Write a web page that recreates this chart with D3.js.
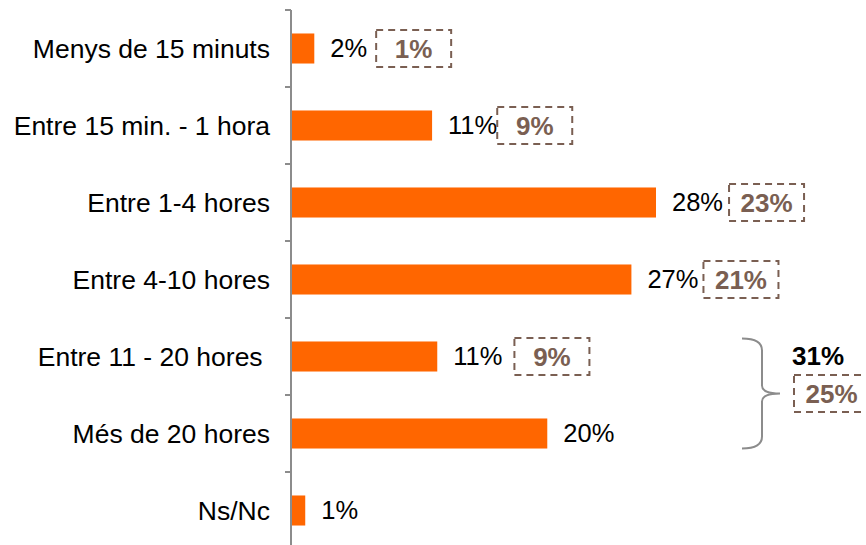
<!DOCTYPE html>
<html>
<head>
<meta charset="utf-8">
<script src="https://cdn.jsdelivr.net/npm/d3@7"></script>
<style>
  body { margin: 0; background: #fff; }
  svg { display: block; font-family: "Liberation Sans", Arial, sans-serif; }
</style>
</head>
<body>
<svg id="chart" width="866" height="545"></svg>
<script>
// data
const categories = [
  'Menys de 15 minuts',
  'Entre 15 min. - 1 hora',
  'Entre 1-4 hores',
  'Entre 4-10 hores',
  'Entre 11 - 20 hores ',
  'Més de 20 hores',
  'Ns/Nc'
]
const values = [1.8, 10.9, 28.2, 26.3, 11.3, 19.8, 1.1]
const valueLabels = ['2%', '11%', '28%', '27%', '11%', '20%', '1%']
// previous-wave figures shown in dashed boxes (null = none)
const prevLabels = ['1%', '9%', '23%', '21%', '9%', null, null]
const groupTotal = '31%'
const groupPrev = '25%'

const orange = '#ff6600'
const brown = '#7a5f52'
const axisGrey = '#8c8c8c'

const svg = d3.select('#chart')

const y = d3.scaleBand().domain(categories).range([10, 549]).paddingInner(0.61).paddingOuter(0.305)
const x = d3.scaleLinear().domain([0, 28.2]).range([291, 656])

// bars
svg.append('g')
  .selectAll('rect')
  .data(values)
  .join('rect')
  .attr('x', x(0))
  .attr('y', (d, i) => y(categories[i]))
  .attr('width', d => x(d) - x(0))
  .attr('height', y.bandwidth())
  .attr('fill', orange)

// axis with ticks at band edges
const axis = svg.append('g')
axis.append('line')
  .attr('x1', 291).attr('x2', 291)
  .attr('y1', y.range()[0]).attr('y2', y.range()[1])
  .attr('stroke', axisGrey).attr('stroke-width', 2)
const edges = d3.range(categories.length + 1).map(i => y.range()[0] + i * y.step())
axis.selectAll('.tick')
  .data(edges)
  .join('line')
  .attr('class', 'tick')
  .attr('x1', 285).attr('x2', 291)
  .attr('y1', d => d).attr('y2', d => d)
  .attr('stroke', axisGrey).attr('stroke-width', 2)

// category labels
svg.append('g')
  .selectAll('text')
  .data(categories)
  .join('text')
  .attr('x', 270)
  .attr('y', d => y(d) + y.bandwidth() / 2)
  .attr('dy', '0.35em')
  .attr('text-anchor', 'end')
  .style('white-space', 'pre')
  .attr('font-size', 26.5)
  .attr('fill', '#000')
  .text(d => d)

// value labels
const vl = svg.append('g')
  .selectAll('text')
  .data(values)
  .join('text')
  .attr('x', d => x(d) + 16)
  .attr('y', (d, i) => y(categories[i]) + y.bandwidth() / 2)
  .attr('dy', '0.35em')
  .attr('font-size', 25.5)
  .attr('fill', '#000')
  .text((d, i) => valueLabels[i])

// dashed boxes with previous values
const boxW = 75, boxH = 37
const gaps = [9, 0, 6, 5, 12]
vl.each(function (d, i) {
  if (!prevLabels[i]) return
  const bb = this.getBBox()
  const bx = bb.x + bb.width + gaps[i]
  const cy = y(categories[i]) + y.bandwidth() / 2
  drawBox(bx, cy, prevLabels[i])
})

function drawBox(bx, cy, label) {
  const g = svg.append('g')
  g.append('rect')
    .attr('x', bx).attr('y', cy - boxH / 2)
    .attr('width', boxW).attr('height', boxH)
    .attr('fill', 'none')
    .attr('stroke', brown).attr('stroke-width', 2)
    .attr('stroke-dasharray', '7,5')
  g.append('text')
    .attr('x', bx + boxW / 2).attr('y', cy)
    .attr('dy', '0.35em')
    .attr('text-anchor', 'middle')
    .attr('font-size', 26).attr('font-weight', 'bold')
    .attr('fill', brown)
    .text(label)
}

// curly brace grouping the last two time ranges
const braceTop = y(categories[4]) - 3
const braceBot = y(categories[5]) + y.bandwidth()
const braceMid = (braceTop + braceBot) / 2
const bxl = 742, bxr = 762
svg.append('path')
  .attr('d', `M${bxl},${braceTop} Q${bxr},${braceTop} ${bxr},${braceTop + 12} L${bxr},${braceMid - 8} Q${bxr},${braceMid} ${bxr + 18},${braceMid}
              M${bxr + 18},${braceMid} Q${bxr},${braceMid} ${bxr},${braceMid + 8} L${bxr},${braceBot - 12} Q${bxr},${braceBot} ${bxl},${braceBot}`)
  .attr('fill', 'none')
  .attr('stroke', axisGrey)
  .attr('stroke-width', 2)

svg.append('text')
  .attr('x', 792).attr('y', 365)
  .attr('font-size', 26).attr('font-weight', 'bold')
  .attr('fill', '#000')
  .text(groupTotal)
drawBox(794, braceMid, groupPrev)
</script>
</body>
</html>
